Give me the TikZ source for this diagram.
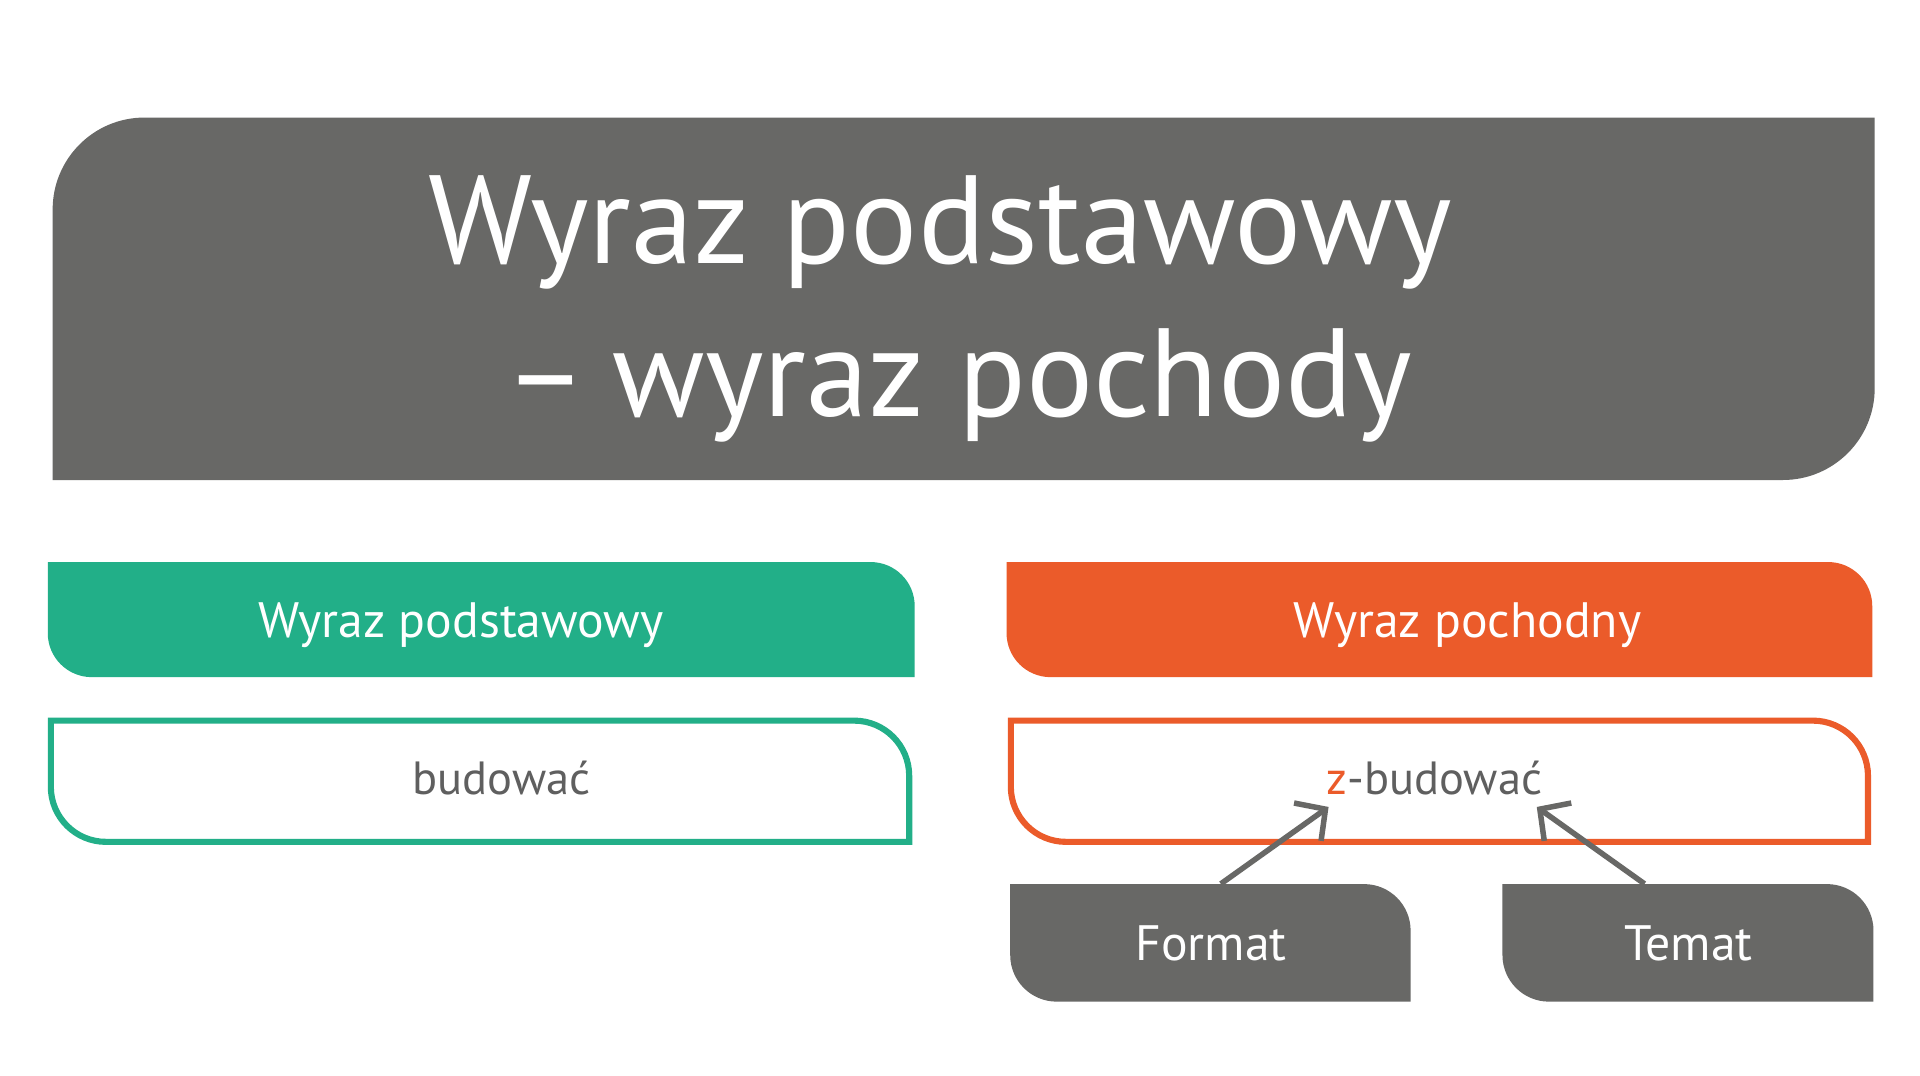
\documentclass[tikz,border=0pt]{standalone}
\usepackage{fontspec}
\setmainfont{PT Sans}
\usetikzlibrary{arrows.meta}
\definecolor{dgray}{RGB}{104,104,102}
\definecolor{tgreen}{RGB}{34,175,136}
\definecolor{torange}{RGB}{235,91,42}
\definecolor{tgray}{RGB}{95,95,95}
\begin{document}
\begin{tikzpicture}[x=1pt,y=-1pt,
  lbl/.style={inner sep=0pt, anchor=base},
  titlefont/.style={font=\fontsize{102.5}{120}\selectfont, text=white},
  headfont/.style={font=\fontsize{40.6}{48}\selectfont, text=white},
  wordfont/.style={font=\fontsize{38}{46}\selectfont, text=tgray},
  boxnode/.style={inner sep=0pt, minimum width=#1, minimum height=96pt},
  link/.style={draw=dgray, line width=4.5pt, -{Straight Barb[length=18pt,width=38pt]}}]
\useasboundingbox[fill=white] (0,0) rectangle (1568,878);
% title box
\fill[dgray] (43,392) -- (43,171) arc[start angle=180,end angle=90,radius=75pt]
  -- (1531,96) -- (1531,317) arc[start angle=0,end angle=-90,radius=75pt] -- cycle;
% headers
\fill[tgreen] (39,459) -- (711,459) arc[start angle=90,end angle=0,radius=36pt]
  -- (747,553) -- (75,553) arc[start angle=270,end angle=180,radius=36pt] -- cycle;
\fill[torange] (822,459) -- (1493,459) arc[start angle=90,end angle=0,radius=36pt]
  -- (1529,553) -- (858,553) arc[start angle=270,end angle=180,radius=36pt] -- cycle;
% outlines
\draw[tgreen, line width=5pt] (41.5,588.5) -- (697.5,588.5) arc[start angle=90,end angle=0,radius=45pt]
  -- (742.5,687.5) -- (86.5,687.5) arc[start angle=270,end angle=180,radius=45pt] -- cycle;
\draw[torange, line width=5pt] (825.5,588.5) -- (1480.5,588.5) arc[start angle=90,end angle=0,radius=45pt]
  -- (1525.5,687.5) -- (870.5,687.5) arc[start angle=270,end angle=180,radius=45pt] -- cycle;
% small boxes
\fill[dgray] (825,722) -- (1114,722) arc[start angle=90,end angle=0,radius=38pt]
  -- (1152,818) -- (863,818) arc[start angle=270,end angle=180,radius=38pt] -- cycle;
\fill[dgray] (1227,722) -- (1492,722) arc[start angle=90,end angle=0,radius=38pt]
  -- (1530,818) -- (1265,818) arc[start angle=270,end angle=180,radius=38pt] -- cycle;
% texts
\node[lbl, titlefont] (title1) at (767.5,215) {Wyraz podstawowy};
\node[lbl, titlefont] (title2) at (782.5,340) {–\hspace{0.2em}wyraz pochody};
\node[lbl, headfont] (head1) at (376.5,521) {Wyraz podstawowy};
\node[lbl, headfont] (head2) at (1198.5,521) {Wyraz pochodny};
\node[lbl, wordfont] (base1) at (409.5,649) {budować};
\node[lbl, wordfont] (deriv) at (1171.5,649) {\textcolor{torange}{z}-budować};
\node[lbl, headfont] (format) at (989,784) {Format};
\node[lbl, headfont] (temat) at (1379,784) {Temat};
% box anchors
\node[boxnode=327pt] (formatbox) at (988.5,770) {};
\node[boxnode=303pt] (tematbox) at (1378.5,770) {};
\coordinate (tipF) at (1085,659);
\coordinate (tipT) at (1255,659);
\draw[link] ([xshift=8.5pt]formatbox.north) -- (tipF);
\draw[link] ([xshift=-35.5pt]tematbox.north) -- (tipT);
\end{tikzpicture}
\end{document}
